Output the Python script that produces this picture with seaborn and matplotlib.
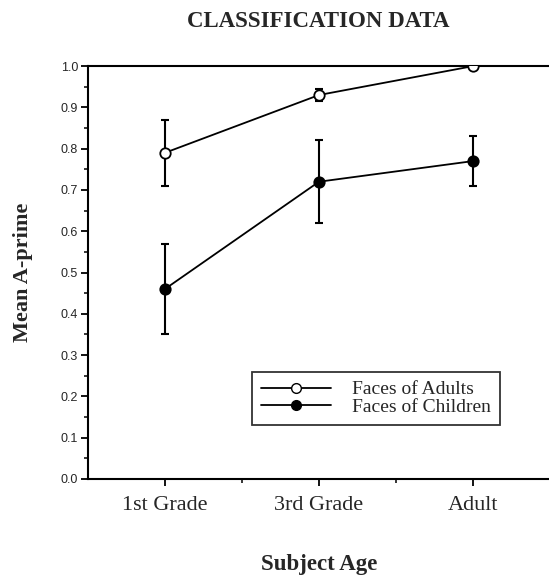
import matplotlib
matplotlib.use("Agg")
import matplotlib.pyplot as plt
import matplotlib.ticker as mticker
from matplotlib.lines import Line2D
import pandas as pd
import seaborn as sns

# data
ages = ["1st Grade", "3rd Grade", "Adult"]
adult_faces = [0.79, 0.93, 1.00]
adult_err = [0.08, 0.015, 0.0]
child_faces = [0.46, 0.72, 0.77]
child_err = [0.11, 0.10, 0.06]

df = pd.DataFrame({
    "age": ages * 2,
    "aprime": adult_faces + child_faces,
    "err": adult_err + child_err,
    "faces": ["Faces of Adults"] * 3 + ["Faces of Children"] * 3,
})

sns.set_theme(style="ticks")
serif = ["Liberation Serif", "DejaVu Serif"]
plt.rcParams["font.family"] = ["Liberation Sans", "DejaVu Sans"]

fig = plt.figure(figsize=(5.49, 5.75), dpi=100)
ax = fig.add_axes([0.160, 0.167, 0.842, 0.718])

styles = {"Faces of Adults": "white", "Faces of Children": "black"}
for name, face in styles.items():
    sub = df[df["faces"] == name]
    sns.lineplot(data=sub, x="age", y="aprime", ax=ax, color="black", lw=1.3,
                 marker="o", markersize=7.5, markerfacecolor=face,
                 markeredgecolor="black", markeredgewidth=1.3, zorder=3)
    ax.errorbar(sub["age"], sub["aprime"], yerr=sub["err"], fmt="none",
                ecolor="black", elinewidth=1.5, capsize=2.8, capthick=1.5, zorder=2)

ax.set_xlim(-0.5, 2.5)
ax.set_ylim(0.0, 1.0)
ax.yaxis.set_major_locator(mticker.MultipleLocator(0.1))
ax.yaxis.set_minor_locator(mticker.MultipleLocator(0.05))
ax.yaxis.set_major_formatter(mticker.FormatStrFormatter("%.1f"))
ax.xaxis.set_minor_locator(mticker.FixedLocator([0.5, 1.5]))
ax.tick_params(axis="both", which="major", direction="out", length=5, width=1.3, color="black")
ax.tick_params(axis="both", which="minor", direction="out", length=3, width=1.1, color="black")
ax.tick_params(axis="y", labelsize=9, pad=2)
for lbl in ax.get_xticklabels():
    lbl.set_fontfamily(serif)
    lbl.set_fontsize(16)
ax.tick_params(axis="x", pad=7)

for side in ["left", "bottom", "top"]:
    ax.spines[side].set_linewidth(1.5)
    ax.spines[side].set_color("black")
ax.spines["right"].set_visible(False)

ax.set_xlabel("Subject Age", fontfamily=serif, fontsize=16.5, fontweight="bold", labelpad=28)
ax.set_ylabel("Mean A-prime", fontfamily=serif, fontsize=16, fontweight="bold", labelpad=20)
fig.text(0.579, 0.962, "CLASSIFICATION DATA", fontfamily=serif, fontsize=16.5,
         fontweight="bold", ha="center", va="center")

handles = [
    Line2D([], [], color="black", lw=1.3, marker="o", markersize=7,
           markerfacecolor="white", markeredgecolor="black"),
    Line2D([], [], color="black", lw=1.3, marker="o", markersize=7,
           markerfacecolor="black", markeredgecolor="black"),
]
leg = ax.legend(handles, ["Faces of Adults", "Faces of Children"],
                loc="upper left", bbox_to_anchor=(0.355, 0.259),
                prop={"family": serif, "size": 14}, frameon=True, fancybox=False,
                edgecolor="black", handlelength=3.6, handletextpad=1.1,
                labelspacing=0.0, borderpad=0.45, borderaxespad=0)
leg.get_frame().set_linewidth(1.3)

fig.savefig("out.png", dpi=100)
